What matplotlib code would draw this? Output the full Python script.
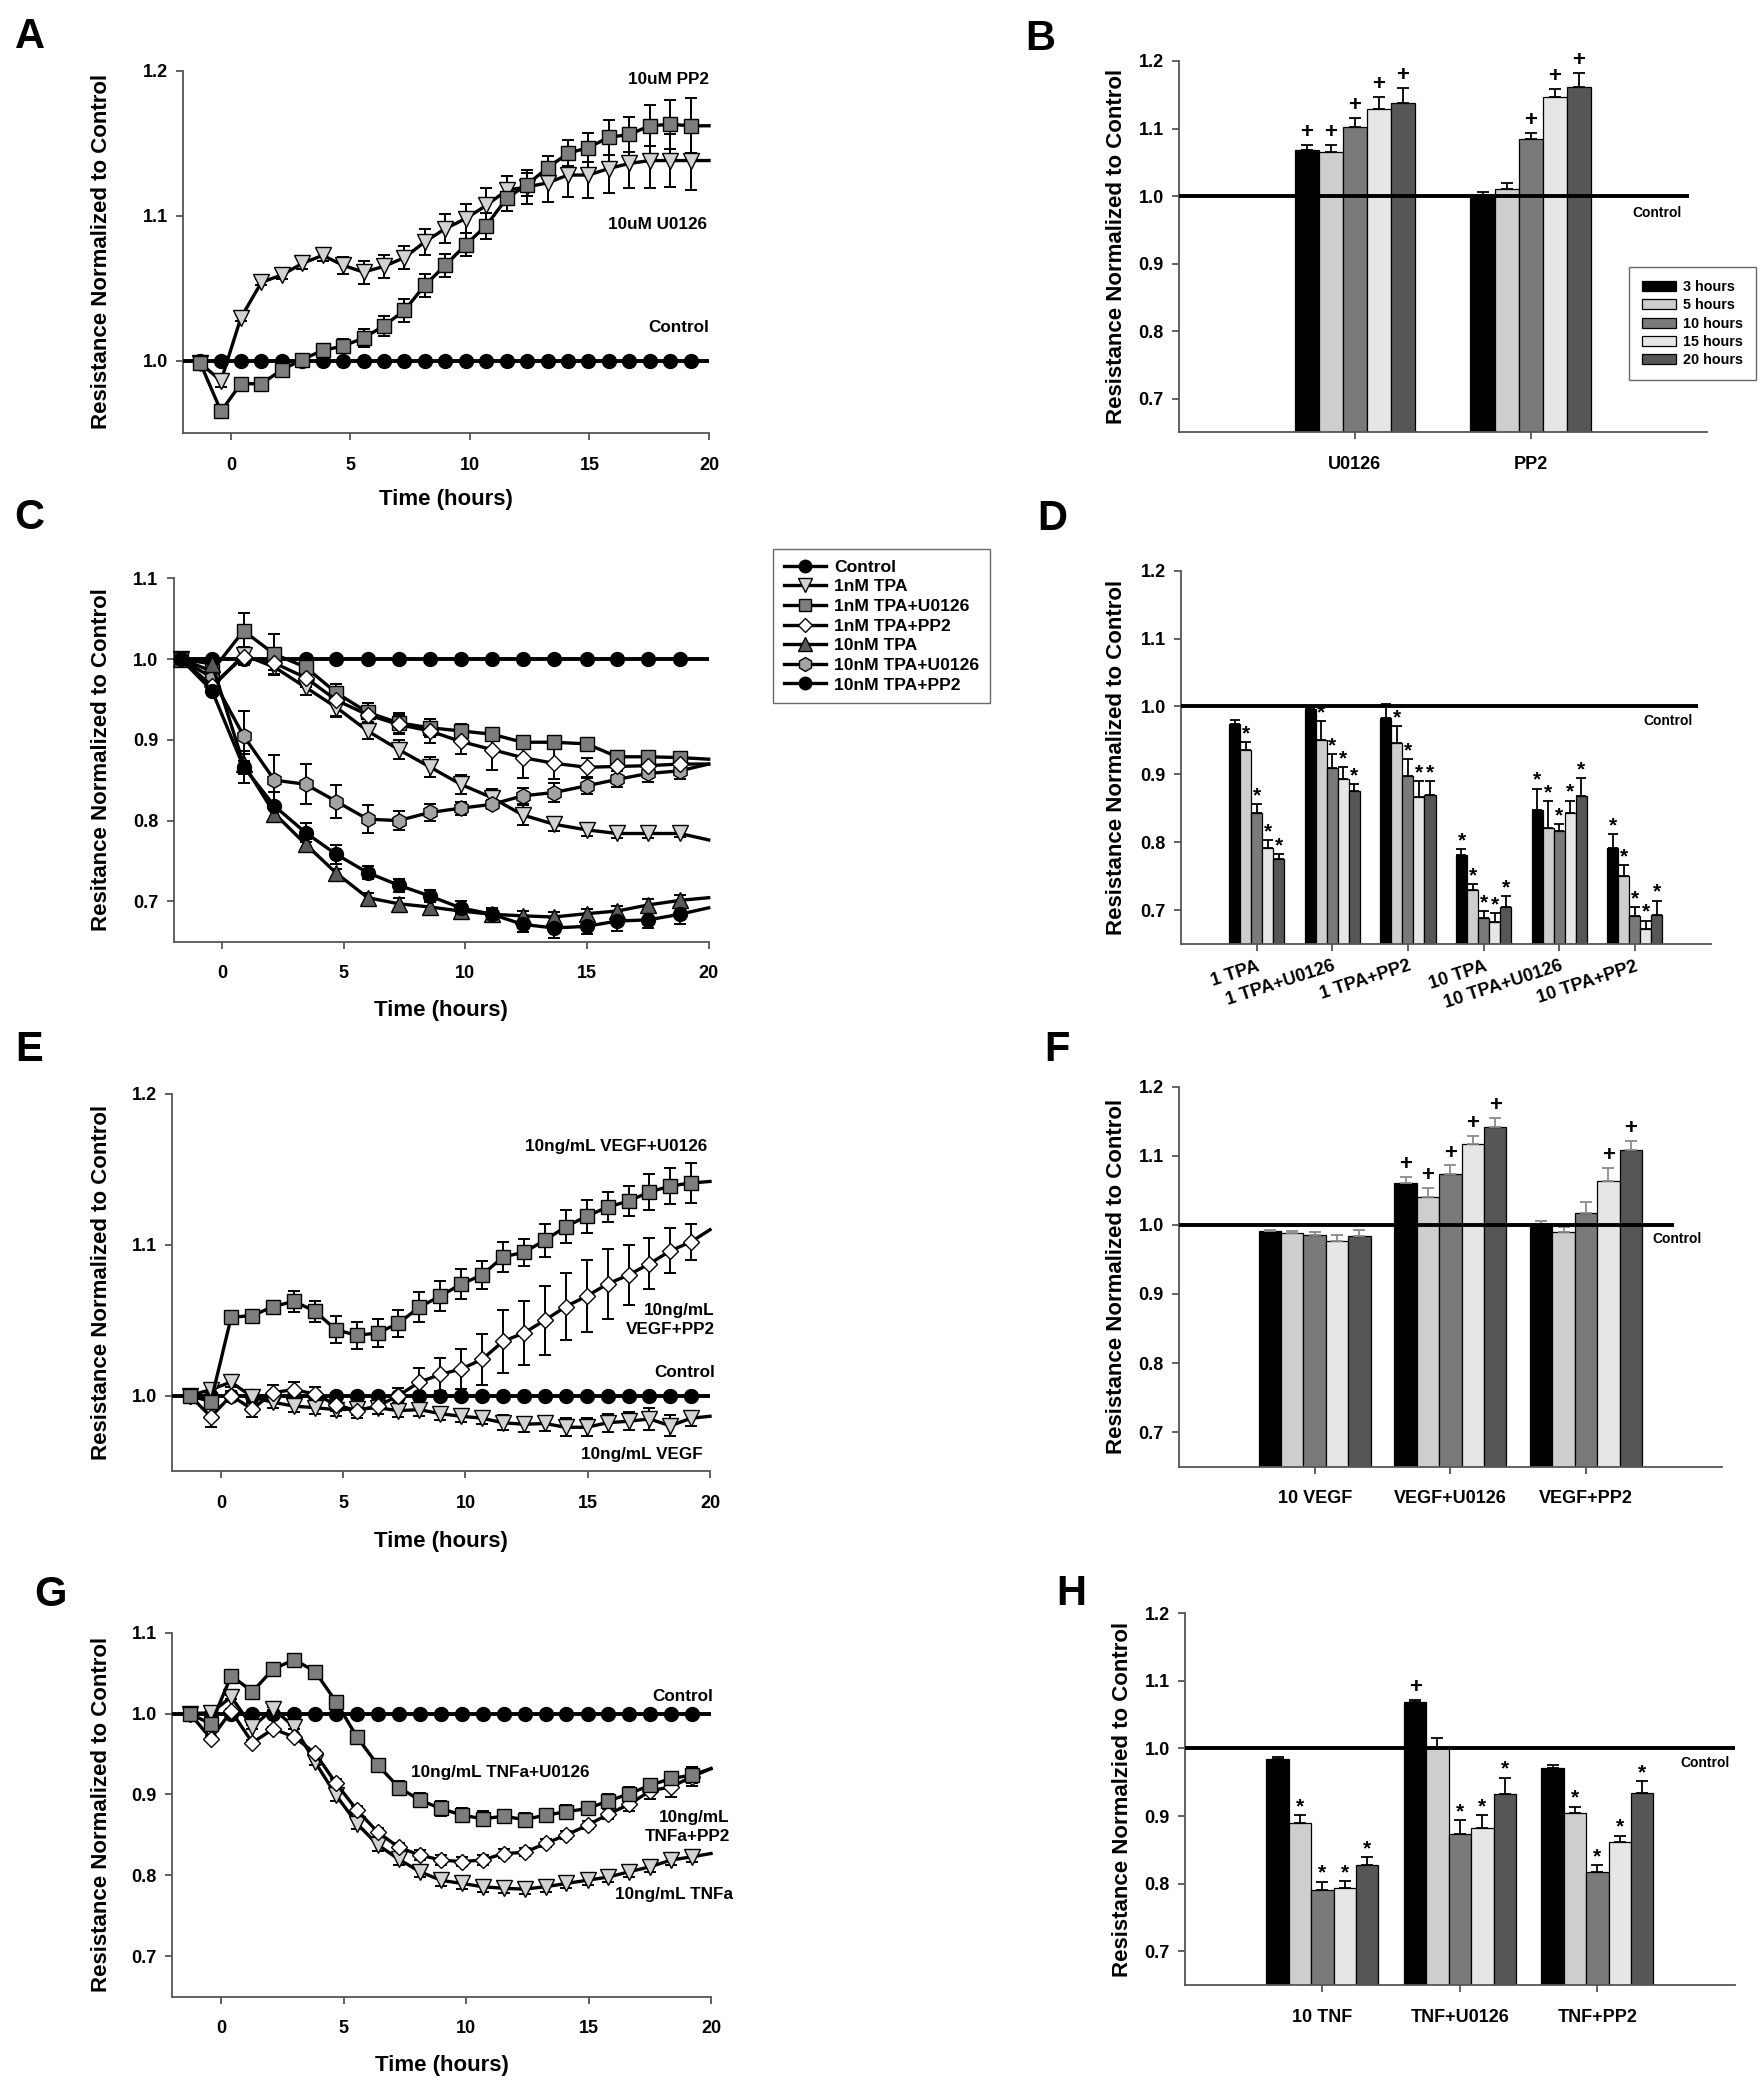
import matplotlib
matplotlib.use('Agg')
import matplotlib.pyplot as plt
from matplotlib.patches import Patch
from matplotlib.lines import Line2D
from matplotlib.ticker import FormatStrFormatter
import numpy as np

W, H = 1763, 2100

plt.rcParams['font.family'] = ['Liberation Sans', 'DejaVu Sans']
plt.rcParams['font.weight'] = 'bold'

# ---------------- data: time courses ----------------
# time grid for A, E, G (last entry = line end at 20 h, no marker)
tA = [-1.27, -0.41, 0.42, 1.28, 2.13, 2.99, 3.84, 4.70, 5.55, 6.41, 7.26, 8.12, 8.97,
      9.83, 10.68, 11.54, 12.39, 13.25, 14.10, 14.96, 15.81, 16.67, 17.52, 18.38, 19.23, 20.0]
tA_ctrl = [-2.0] + tA

A_ctrl = [1.0] * 27
A_pp2 = [0.998, 0.965, 0.984, 0.984, 0.9935, 1.0007, 1.007, 1.010, 1.0155, 1.024, 1.0346, 1.052, 1.0657,
         1.080, 1.093, 1.112, 1.1214, 1.133, 1.143, 1.147, 1.154, 1.156, 1.162, 1.163, 1.162, 1.162]
A_pp2_err = [0.001, 0.002, 0.002, 0.002, 0.003, 0.003, 0.004, 0.005, 0.006, 0.007, 0.008, 0.008, 0.008,
             0.008, 0.009, 0.009, 0.008, 0.008, 0.009, 0.010, 0.012, 0.012, 0.014, 0.017, 0.019]
A_u0126 = [0.998, 0.986, 1.0295, 1.054, 1.059, 1.067, 1.0726, 1.0657, 1.061, 1.065, 1.071, 1.082, 1.091,
           1.098, 1.107, 1.1175, 1.1198, 1.1226, 1.128, 1.128, 1.1325, 1.136, 1.138, 1.138, 1.138, 1.138]
A_u0126_err = [0.001, 0.004, 0.002, 0.002, 0.003, 0.004, 0.004, 0.006, 0.008, 0.008, 0.008, 0.009, 0.010,
               0.010, 0.012, 0.010, 0.012, 0.013, 0.015, 0.016, 0.017, 0.017, 0.019, 0.018, 0.020]

tC = [-1.69, -0.42, 0.88, 2.15, 3.43, 4.70, 5.98, 7.25, 8.53, 9.80, 11.08, 12.35, 13.63,
      14.98, 16.24, 17.51, 18.82, 20.0]
tC_ctrl = [-2.0] + tC
C_ctrl = [1.0] * 19
C_tpa1 = [1.0, 0.965, 1.005, 0.99, 0.965, 0.94, 0.911, 0.888, 0.8665, 0.845, 0.8285, 0.807, 0.7955,
          0.7885, 0.784, 0.784, 0.784, 0.776]
C_tpa1_err = [0.002, 0.005, 0.010, 0.010, 0.010, 0.012, 0.010, 0.012, 0.012, 0.012, 0.010, 0.012, 0.009,
              0.008, 0.006, 0.006, 0.004]
C_tpa1_u = [1.0, 0.985, 1.035, 1.006, 0.99, 0.958, 0.934, 0.921, 0.915, 0.911, 0.907, 0.897, 0.897,
            0.895, 0.879, 0.879, 0.878, 0.876]
C_tpa1_u_err = [0.002, 0.005, 0.022, 0.025, 0.012, 0.011, 0.012, 0.012, 0.011, 0.009, 0.008, 0.008, 0.008,
                0.007, 0.005, 0.005, 0.005]
C_tpa1_p = [1.0, 0.967, 1.003, 0.995, 0.977, 0.949, 0.931, 0.919, 0.911, 0.898, 0.888, 0.878, 0.871,
            0.866, 0.867, 0.868, 0.870, 0.870]
C_tpa1_p_err = [0.002, 0.005, 0.010, 0.008, 0.012, 0.020, 0.015, 0.012, 0.015, 0.015, 0.025, 0.025, 0.020,
                0.012, 0.010, 0.010, 0.010]
C_tpa10 = [1.0, 0.994, 0.87, 0.8087, 0.7707, 0.7347, 0.7045, 0.697, 0.693, 0.688, 0.684, 0.682, 0.6806,
           0.6847, 0.688, 0.6955, 0.7012, 0.7045]
C_tpa10_err = [0.002, 0.005, 0.012, 0.008, 0.006, 0.005, 0.006, 0.007, 0.007, 0.006, 0.006, 0.006, 0.006,
               0.006, 0.006, 0.007, 0.007]
C_tpa10_u = [1.0, 0.977, 0.905, 0.85, 0.845, 0.8236, 0.8017, 0.80, 0.81, 0.8153, 0.820, 0.8306, 0.8347,
             0.843, 0.851, 0.8583, 0.8616, 0.870]
C_tpa10_u_err = [0.002, 0.005, 0.031, 0.031, 0.025, 0.020, 0.017, 0.012, 0.010, 0.008, 0.006, 0.010, 0.012,
                 0.010, 0.010, 0.010, 0.010]
C_tpa10_p = [1.0, 0.961, 0.8665, 0.818, 0.785, 0.758, 0.7355, 0.72, 0.7066, 0.692, 0.684, 0.6715, 0.667,
             0.669, 0.6756, 0.677, 0.684, 0.692]
C_tpa10_p_err = [0.002, 0.005, 0.020, 0.017, 0.012, 0.012, 0.008, 0.008, 0.008, 0.008, 0.008, 0.010, 0.012,
                 0.010, 0.012, 0.010, 0.012]
C_names = ['Control', '1nM TPA', '1nM TPA+U0126', '1nM TPA+PP2', '10nM TPA', '10nM TPA+U0126', '10nM TPA+PP2']

E_ctrl = [1.0] * 27
E_u0126 = [1.0, 0.996, 1.052, 1.053, 1.059, 1.0625, 1.056, 1.0437, 1.040, 1.0415, 1.048, 1.0587, 1.066,
           1.074, 1.080, 1.092, 1.095, 1.103, 1.112, 1.119, 1.125, 1.129, 1.135, 1.139, 1.141, 1.142]
E_u0126_err = [0.001, 0.003, 0.002, 0.002, 0.003, 0.007, 0.007, 0.009, 0.009, 0.009, 0.009, 0.010, 0.010,
               0.010, 0.009, 0.010, 0.009, 0.011, 0.011, 0.011, 0.010, 0.010, 0.012, 0.012, 0.013]
E_pp2 = [1.0, 0.986, 1.0, 0.991, 1.002, 1.004, 1.001, 0.994, 0.990, 0.993, 1.0, 1.009, 1.014,
         1.0177, 1.024, 1.036, 1.0415, 1.050, 1.059, 1.066, 1.074, 1.080, 1.0874, 1.096, 1.102, 1.110]
E_pp2_err = [0.001, 0.007, 0.003, 0.005, 0.005, 0.005, 0.005, 0.004, 0.005, 0.005, 0.005, 0.009, 0.011,
             0.013, 0.017, 0.021, 0.021, 0.023, 0.022, 0.024, 0.023, 0.020, 0.017, 0.015, 0.012]
E_vegf = [1.0, 1.004, 1.009, 0.999, 0.9956, 0.993, 0.992, 0.9907, 0.991, 0.992, 0.990, 0.9907, 0.988,
          0.9863, 0.985, 0.982, 0.981, 0.9815, 0.979, 0.979, 0.982, 0.983, 0.9845, 0.980, 0.985, 0.9863]
E_vegf_err = [0.001, 0.003, 0.003, 0.004, 0.004, 0.004, 0.004, 0.004, 0.004, 0.004, 0.004, 0.004, 0.004,
              0.004, 0.004, 0.005, 0.005, 0.005, 0.006, 0.006, 0.006, 0.006, 0.007, 0.007, 0.005]

G_ctrl = [1.0] * 27
G_u0126 = [1.0, 0.987, 1.047, 1.027, 1.055, 1.0667, 1.052, 1.0144, 0.971, 0.936, 0.9086, 0.893, 0.8827,
           0.8745, 0.870, 0.873, 0.869, 0.8745, 0.8786, 0.8827, 0.892, 0.901, 0.9115, 0.9198, 0.924, 0.932]
G_u0126_err = [0.001, 0.002, 0.002, 0.002, 0.002, 0.002, 0.002, 0.005, 0.007, 0.008, 0.008, 0.009, 0.009,
               0.009, 0.009, 0.008, 0.008, 0.008, 0.008, 0.008, 0.008, 0.008, 0.008, 0.008, 0.010]
G_pp2 = [1.0, 0.969, 1.003, 0.964, 0.981, 0.971, 0.951, 0.9136, 0.8807, 0.853, 0.8346, 0.825, 0.819,
         0.817, 0.819, 0.827, 0.8284, 0.8395, 0.850, 0.862, 0.8757, 0.888, 0.9045, 0.9095, 0.922, 0.932]
G_pp2_err = [0.001, 0.003, 0.003, 0.003, 0.003, 0.003, 0.004, 0.005, 0.005, 0.006, 0.006, 0.006, 0.006,
             0.006, 0.006, 0.005, 0.005, 0.005, 0.005, 0.005, 0.006, 0.008, 0.010, 0.012, 0.012]
G_tnf = [1.0, 1.001, 1.0206, 0.9835, 1.006, 0.9835, 0.940, 0.899, 0.864, 0.8375, 0.8198, 0.8045, 0.794,
         0.790, 0.786, 0.784, 0.783, 0.786, 0.790, 0.794, 0.798, 0.8045, 0.8107, 0.819, 0.823, 0.827]
G_tnf_err = [0.001, 0.002, 0.002, 0.002, 0.002, 0.002, 0.004, 0.007, 0.007, 0.007, 0.007, 0.007, 0.007,
             0.007, 0.007, 0.006, 0.006, 0.006, 0.006, 0.006, 0.006, 0.006, 0.006, 0.006, 0.006]

# ---------------- data: bar charts ----------------
hours = ['3 hours', '5 hours', '10 hours', '15 hours', '20 hours']
bar_colors = ['#000000', '#cecece', '#7a7a7a', '#e6e6e6', '#565656']

B_groups = ['U0126', 'PP2']
B_vals = [[1.068, 1.065, 1.102, 1.129, 1.138], [1.0015, 1.011, 1.084, 1.147, 1.162]]
B_err = [[0.0075, 0.010, 0.013, 0.018, 0.022], [0.005, 0.008, 0.009, 0.012, 0.020]]
B_marks = [['+', '+', '+', '+', '+'], ['', '', '+', '+', '+']]

D_groups = ['1 TPA', '1 TPA+U0126', '1 TPA+PP2', '10 TPA', '10 TPA+U0126', '10 TPA+PP2']
D_vals = [[0.9735, 0.936, 0.843, 0.791, 0.7756],
          [0.9956, 0.951, 0.909, 0.8935, 0.876],
          [0.983, 0.946, 0.897, 0.8665, 0.870],
          [0.7815, 0.730, 0.688, 0.683, 0.7045],
          [0.848, 0.821, 0.8164, 0.8434, 0.8684],
          [0.7914, 0.750, 0.691, 0.6726, 0.693]]
D_err = [[0.007, 0.011, 0.013, 0.012, 0.007],
         [0.003, 0.027, 0.021, 0.017, 0.010],
         [0.021, 0.025, 0.025, 0.024, 0.020],
         [0.008, 0.008, 0.010, 0.012, 0.016],
         [0.031, 0.039, 0.010, 0.018, 0.026],
         [0.020, 0.016, 0.013, 0.012, 0.021]]
D_marks = [['', '*', '*', '*', '*'], ['', '*', '*', '*', '*'], ['', '*', '*', '*', '*'],
           ['*', '*', '*', '*', '*'], ['*', '*', '*', '*', '*'], ['*', '*', '*', '*', '*']]

F_groups = ['10 VEGF', 'VEGF+U0126', 'VEGF+PP2']
F_vals = [[0.9917, 0.988, 0.9854, 0.977, 0.984], [1.061, 1.041, 1.074, 1.1167, 1.141],
          [1.001, 0.990, 1.017, 1.064, 1.109]]
F_err = [[0.001, 0.003, 0.004, 0.008, 0.008], [0.009, 0.012, 0.012, 0.012, 0.014],
         [0.005, 0.007, 0.016, 0.018, 0.013]]
F_marks = [['', '', '', '', ''], ['+', '+', '+', '+', '+'], ['', '', '', '+', '+']]

H_groups = ['10 TNF', 'TNF+U0126', 'TNF+PP2']
H_vals = [[0.9837, 0.889, 0.790, 0.7938, 0.827], [1.069, 1.0025, 0.873, 0.883, 0.932],
          [0.971, 0.904, 0.8165, 0.861, 0.9334]]
H_err = [[0.004, 0.013, 0.013, 0.010, 0.012], [0.003, 0.013, 0.021, 0.019, 0.025],
         [0.005, 0.010, 0.011, 0.010, 0.018]]
H_marks = [['', '*', '*', '*', '*'], ['+', '', '*', '*', '*'], ['', '*', '*', '*', '*']]

# marker styles (marker, face, size)
CTRL = ('o', 'black', 10)
TRI = ('v', '#d2d2d2', 11)
SQ = ('s', '#7d7d7d', 10)
DIA = ('D', 'white', 8.5)
TRIUP = ('^', '#5a5a5a', 11)
HEX = ('h', '#a3a3a3', 11)

fig = plt.figure(figsize=(W / 100, H / 100), dpi=100)


def add_ax(l, t, r, b):
    ax = fig.add_axes([l / W, 1 - b / H, (r - l) / W, (b - t) / H])
    ax.spines['top'].set_visible(False)
    ax.spines['right'].set_visible(False)
    for s in ['left', 'bottom']:
        ax.spines[s].set_color('#555555')
        ax.spines[s].set_linewidth(1.3)
    ax.tick_params(direction='out', length=5, width=1.3, colors='#555555', labelcolor='black',
                   labelsize=13)
    ax.tick_params(axis='y', pad=6)
    ax.tick_params(axis='x', pad=12)
    ax.yaxis.set_major_formatter(FormatStrFormatter('%.1f'))
    return ax


def ylab(ax, text, xpix):
    p = ax.get_position()
    fig.text(xpix / W, p.y0 + p.height / 2, text, rotation=90, ha='center', va='center',
             fontsize=16, fontweight='bold')


def xlab(ax, ypix):
    p = ax.get_position()
    fig.text(p.x0 + p.width / 2, 1 - ypix / H, 'Time (hours)', ha='center', va='center',
             fontsize=16, fontweight='bold')


def series(ax, t, vals, errs, style, start=0):
    m, face, ms = style
    n = len(errs)
    tm = t[start:start + n]
    vm = vals[start:start + n]
    ax.errorbar(tm, vm, yerr=errs, fmt='none', ecolor='black', elinewidth=1.4,
                capsize=4.2, capthick=1.4, zorder=2)
    ax.plot(t, vals, color='black', lw=2.4, marker=m, mfc=face, mec='black', mew=1.0, ms=ms,
            markevery=list(range(start, start + n)), zorder=3, clip_on=False)


def time_axes(ax, ylim, yticks):
    ax.set_xlim(-2, 20)
    ax.set_xticks([0, 5, 10, 15, 20])
    ax.set_ylim(*ylim)
    ax.set_yticks(yticks)


def control(ax, t, vals):
    m, face, ms = CTRL
    ax.plot(t, vals, color='black', lw=2.8, marker=m, mfc=face, mec='black', ms=ms,
            markevery=list(range(1, len(t) - 1)), zorder=3)


def bar_panel(ax, groups, vals, errs, marks, width, xmax, ctrl_end, ctrl_xy, ecolor='black', cap=4.3):
    x = np.arange(1, len(groups) + 1)
    for i in range(5):
        xs = x + (i - 2) * width
        v = np.array([g[i] for g in vals])
        e = np.array([g[i] for g in errs])
        ax.bar(xs, v, width, color=bar_colors[i], edgecolor='black', linewidth=0.9, zorder=2)
        ax.errorbar(xs, v, yerr=[np.zeros(len(e)), e], fmt='none', ecolor=ecolor,
                    elinewidth=1.3, capsize=cap, capthick=1.3, zorder=2)
        for xi, top, g in zip(xs, v + e, marks):
            mk = g[i]
            if mk == '+':
                ax.annotate('+', (xi, top), xytext=(0, 5), textcoords='offset points',
                            ha='center', va='baseline', fontsize=16, fontweight='bold')
            elif mk == '*':
                ax.annotate('*', (xi, top), xytext=(0, 2), textcoords='offset points',
                            ha='center', va='baseline', fontsize=15, fontweight='bold')
    ax.hlines(1.0, 0, ctrl_end, color='black', lw=2.8, zorder=3)
    ax.text(ctrl_xy[0], ctrl_xy[1], 'Control', ha='center', va='center', fontsize=10,
            fontweight='bold')
    ax.set_xlim(0, xmax)
    ax.set_ylim(0.65, 1.2)
    ax.set_yticks([0.7, 0.8, 0.9, 1.0, 1.1, 1.2])
    ax.set_xticks(x)
    ax.set_xticklabels(groups)


# ---------------- A ----------------
axA = add_ax(183, 70.7, 709, 433)
control(axA, tA_ctrl, A_ctrl)
series(axA, tA, A_u0126, A_u0126_err, TRI)
series(axA, tA, A_pp2, A_pp2_err, SQ)
time_axes(axA, (0.95, 1.2), [1.0, 1.1, 1.2])
axA.text(20, 1.194, '10uM PP2', ha='right', va='center', fontsize=12.3)
axA.text(19.9, 1.094, '10uM U0126', ha='right', va='center', fontsize=12.3)
axA.text(20, 1.023, 'Control', ha='right', va='center', fontsize=12.3)
ylab(axA, 'Resistance Normalized to Control', 102)
xlab(axA, 500)

# ---------------- B ----------------
axB = add_ax(1179, 61, 1706.6, 432.3)
bar_panel(axB, B_groups, B_vals, B_err, B_marks, 0.137, 3, 2.9, (2.72, 0.975))
ylab(axB, 'Resistance Normalized to Control', 1117)
handles = [Patch(facecolor=c, edgecolor='black', linewidth=0.9) for c in bar_colors]
legB = fig.legend(handles, hours, loc='upper left', bbox_to_anchor=(1629 / W, 1 - 267 / H),
                  fontsize=10.4, frameon=True, fancybox=False, edgecolor='#444444',
                  handlelength=2.36, handleheight=0.7, labelspacing=0.3, borderpad=0.9,
                  handletextpad=0.5, borderaxespad=0)
legB.get_frame().set_linewidth(1.0)

# ---------------- C ----------------
axC = add_ax(173.5, 578.3, 708.7, 941.7)
control(axC, tC_ctrl, C_ctrl)
series(axC, tC, C_tpa1, C_tpa1_err, TRI)
series(axC, tC, C_tpa1_u, C_tpa1_u_err, SQ)
series(axC, tC, C_tpa10_u, C_tpa10_u_err, HEX)
series(axC, tC, C_tpa1_p, C_tpa1_p_err, DIA)
series(axC, tC, C_tpa10, C_tpa10_err, TRIUP)
series(axC, tC, C_tpa10_p, C_tpa10_p_err, CTRL)
time_axes(axC, (0.65, 1.1), [0.7, 0.8, 0.9, 1.0, 1.1])
ylab(axC, 'Resitance Normalized to Control', 102)
xlab(axC, 1010)
leg_styles = [CTRL, TRI, SQ, DIA, TRIUP, HEX, CTRL]
handlesC = [Line2D([], [], color='black', lw=2.4, marker=m, mfc=f, mec='black', ms=s - 1)
            for m, f, s in leg_styles]
legC = fig.legend(handlesC, C_names, loc='upper left', bbox_to_anchor=(773 / W, 1 - 549 / H),
                  fontsize=12.6, frameon=True, fancybox=False, edgecolor='#444444',
                  handlelength=2.4, labelspacing=0.25, borderpad=0.6, handletextpad=0.5,
                  borderaxespad=0)
legC.get_frame().set_linewidth(1.0)

# ---------------- D ----------------
axD = add_ax(1181, 570.7, 1710.5, 944)
bar_panel(axD, D_groups, D_vals, D_err, D_marks, 0.146, 7, 6.84, (6.44, 0.979), cap=3.9)
axD.tick_params(axis='x', pad=5)
for lab in axD.get_xticklabels():
    lab.set_rotation(18)
    lab.set_ha('right')
    lab.set_rotation_mode('anchor')
ylab(axD, 'Resistance Normalized to Control', 1117)

# ---------------- E ----------------
axE = add_ax(172, 1094, 710, 1471)
control(axE, tA_ctrl, E_ctrl)
series(axE, tA, E_vegf, E_vegf_err, TRI)
series(axE, tA, E_pp2, E_pp2_err, DIA)
series(axE, tA, E_u0126, E_u0126_err, SQ)
time_axes(axE, (0.95, 1.2), [1.0, 1.1, 1.2])
axE.text(19.9, 1.165, '10ng/mL VEGF+U0126', ha='right', va='center', fontsize=12.3)
axE.text(20.2, 1.050, '10ng/mL\nVEGF+PP2', ha='right', va='center', fontsize=12.3,
         multialignment='right', linespacing=1.3)
axE.text(20.2, 1.015, 'Control', ha='right', va='center', fontsize=12.3)
axE.text(19.7, 0.961, '10ng/mL VEGF', ha='right', va='center', fontsize=12.3)
ylab(axE, 'Resistance Normalized to Control', 102)
xlab(axE, 1542)

# ---------------- F ----------------
axF = add_ax(1179, 1086.7, 1721.7, 1466.7)
bar_panel(axF, F_groups, F_vals, F_err, F_marks, 0.165, 4, 3.65, (3.67, 0.980), ecolor='#8a8a8a')
ylab(axF, 'Resistance Normalized to Control', 1117)

# ---------------- G ----------------
axG = add_ax(172, 1632.7, 711, 1996.7)
control(axG, tA_ctrl, G_ctrl)
series(axG, tA, G_tnf, G_tnf_err, TRI)
series(axG, tA, G_pp2, G_pp2_err, DIA)
series(axG, tA, G_u0126, G_u0126_err, SQ)
time_axes(axG, (0.65, 1.1), [0.7, 0.8, 0.9, 1.0, 1.1])
axG.text(20.1, 1.0206, 'Control', ha='right', va='center', fontsize=12.3)
axG.text(7.77, 0.927, '10ng/mL TNFa+U0126', ha='left', va='center', fontsize=12.3)
axG.text(20.76, 0.860, '10ng/mL\nTNFa+PP2', ha='right', va='center', fontsize=12.3,
         multialignment='right', linespacing=1.3)
axG.text(20.9, 0.776, '10ng/mL TNFa', ha='right', va='center', fontsize=12.3)
ylab(axG, 'Resistance Normalized to Control', 102)
xlab(axG, 2065)

# ---------------- H ----------------
axH = add_ax(1185, 1613.3, 1734.8, 1985)
bar_panel(axH, H_groups, H_vals, H_err, H_marks, 0.163, 4, 4.0, (3.78, 0.979))
ylab(axH, 'Resistance Normalzied to Control', 1122)

# panel letters
for letter, (px, py) in zip('ABCDEFGH', [(30, 37), (1040, 39), (29, 518), (1052, 519),
                                         (29, 1050), (1057, 1050), (50, 1595), (1071, 1594)]):
    fig.text(px / W, 1 - py / H, letter, ha='center', va='center', fontsize=30,
             fontweight='bold')

fig.savefig('out.png', dpi=100)
